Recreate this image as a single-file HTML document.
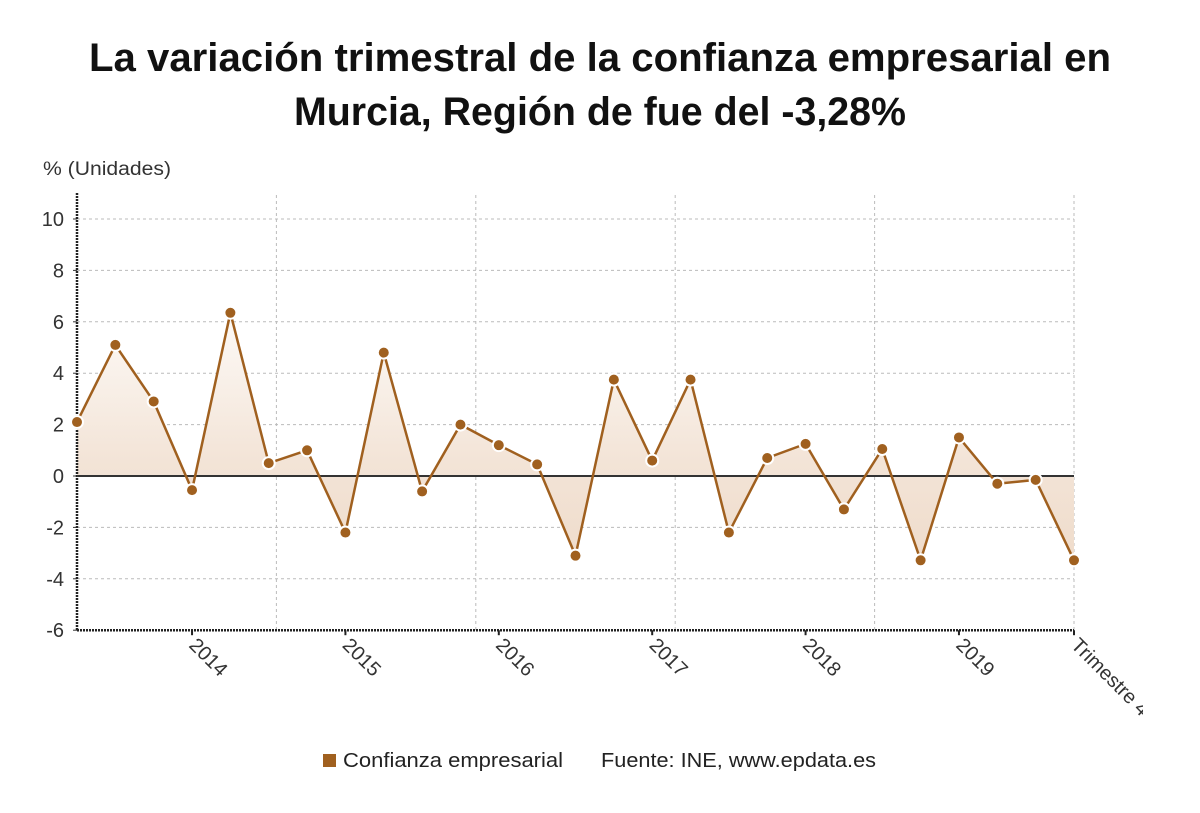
<!DOCTYPE html>
<html><head><meta charset="utf-8">
<style>
body{margin:0;background:#fff;width:1200px;height:808px;overflow:hidden;font-family:"Liberation Sans","DejaVu Sans",sans-serif;}
</style></head>
<body>
<svg width="1200" height="808" id="svg" xmlns="http://www.w3.org/2000/svg">
<defs>
<linearGradient id="g" x1="0" y1="0" x2="0" y2="1">
<stop offset="0" stop-color="#fdfaf7"/><stop offset="0.6" stop-color="#f3e4d7"/><stop offset="1" stop-color="#efdccb"/>
</linearGradient>
<clipPath id="lc"><rect x="0" y="0" width="1143" height="808"/></clipPath>
</defs>
<text x="600" y="71" text-anchor="middle" font-size="40" font-weight="bold" fill="#111" textLength="1022" lengthAdjust="spacingAndGlyphs">La variación trimestral de la confianza empresarial en</text>
<text x="600" y="125" text-anchor="middle" font-size="40" font-weight="bold" fill="#111" textLength="612" lengthAdjust="spacingAndGlyphs">Murcia, Región de fue del -3,28%</text>
<text x="43" y="175" font-size="19" fill="#333" textLength="128" lengthAdjust="spacingAndGlyphs">% (Unidades)</text>
<g id="grid"></g>
<g id="area"></g>
<g id="axes"></g>
<g id="series"></g>
<g id="xlabels" clip-path="url(#lc)"></g>
<rect x="323" y="754" width="13" height="13" fill="#a0601f"/>
<text x="343" y="767" font-size="20" fill="#222" textLength="220" lengthAdjust="spacingAndGlyphs">Confianza empresarial</text>
<text x="601" y="767" font-size="20" fill="#222" textLength="275" lengthAdjust="spacingAndGlyphs">Fuente: INE, www.epdata.es</text>
</svg>
<script>
const values=[2.1,5.1,2.9,-0.55,6.35,0.5,1.0,-2.2,4.8,-0.6,2.0,1.2,0.45,-3.1,3.75,0.6,3.75,-2.2,0.7,1.25,-1.3,1.05,-3.28,1.5,-0.3,-0.15,-3.28];
const yTicks=[10,8,6,4,2,0,-2,-4,-6];
const xLabels=["2014","2015","2016","2017","2018","2019","Trimestre 4"];
const xLabelIdx=[3,7,11,15,19,23,26];
const vGridIdx=[5.2,10.4,15.6,20.8,26];
const NS="http://www.w3.org/2000/svg";
const X0=77,X1=1074,Y10=219,Y0=476,ppu=(Y0-Y10)/10;
const x=i=>X0+i*(X1-X0)/(values.length-1);
const y=v=>Y0-v*ppu;
function mk(tag,attrs,parent){const e=document.createElementNS(NS,tag);for(const k in attrs)e.setAttribute(k,attrs[k]);document.getElementById(parent).appendChild(e);return e;}
yTicks.forEach(t=>{
 if(t!==0&&t!==-6){const l=mk('line',{x1:X0,x2:X1,y1:y(t),y2:y(t),stroke:'#bbb','stroke-dasharray':'3,3'},'grid');
 
 }
 const tx=mk('text',{x:64,y:y(t)+7,'text-anchor':'end','font-size':20,fill:'#333'},'grid');
 tx.textContent=t;
 
 
 mk('line',{x1:X0-4,x2:X0,y1:y(t),y2:y(t),stroke:'#333'},'grid');
});
vGridIdx.forEach(i=>{
 const l=mk('line',{x1:x(i),x2:x(i),y1:195,y2:y(-6),stroke:'#bbb','stroke-dasharray':'3,3'},'grid');
 
 
});
let d='M'+x(0)+','+y(0);
values.forEach((v,i)=>d+='L'+x(i)+','+y(v));
d+='L'+x(values.length-1)+','+y(0)+'Z';
const ar=mk('path',{d:d,fill:'url(#g)'},'area');


const ya=mk('line',{x1:X0,x2:X0,y1:193,y2:y(-6),stroke:'#222','stroke-width':2.5,'stroke-dasharray':'2,1'},'axes');


const xa=mk('line',{x1:X0,x2:X1,y1:y(-6),y2:y(-6),stroke:'#222','stroke-width':2.5,'stroke-dasharray':'2,1'},'axes');


const zl=mk('line',{x1:X0,x2:X1,y1:y(0),y2:y(0),stroke:'#333','stroke-width':2},'axes');


const ln=mk('polyline',{points:values.map((v,i)=>x(i)+','+y(v)).join(' '),fill:'none',stroke:'#a0601f','stroke-width':2.5},'series');


values.forEach((v,i)=>{
 const c=mk('circle',{cx:x(i),cy:y(v),r:6,fill:'#a0601f',stroke:'#fff','stroke-width':2},'series');
 
 
});
xLabels.forEach((s,k)=>{
 const xi=x(xLabelIdx[k]);
 mk('line',{x1:xi,x2:xi,y1:y(-6),y2:y(-6)+5,stroke:'#222','stroke-width':2},'axes');
 const t=mk('text',{x:0,y:0,'font-size':20,fill:'#333',transform:'translate('+(xi-4)+','+(y(-6)+16)+') rotate(45)'},'xlabels');
 t.textContent=s;
 
 
});
</script>
</body></html>
